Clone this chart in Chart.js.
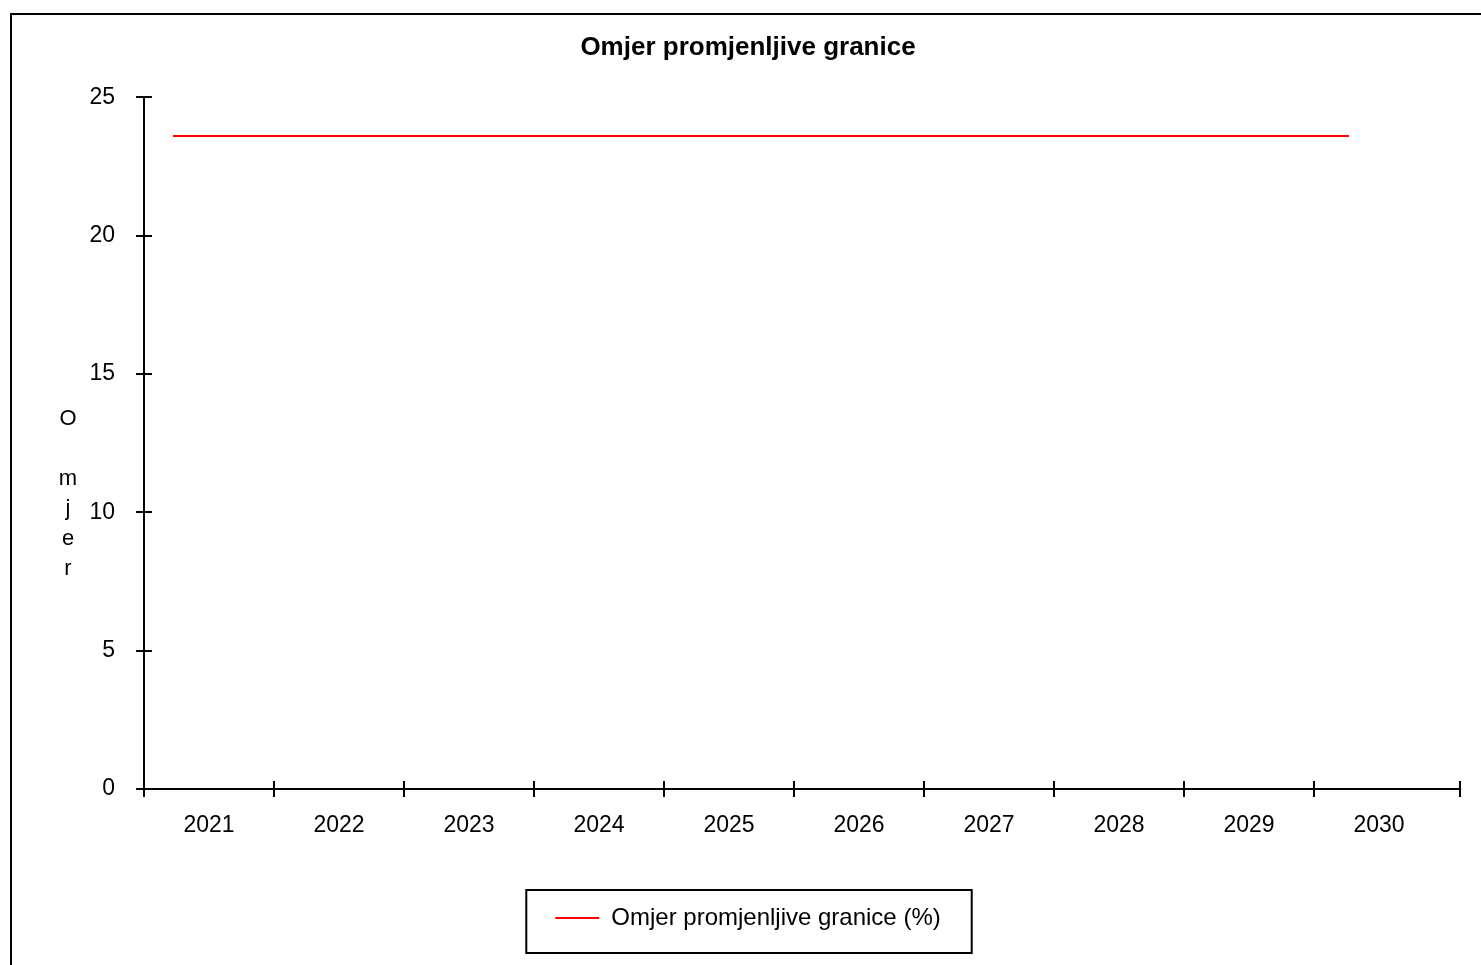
<!DOCTYPE html>
<html>
<head>
<meta charset="utf-8">
<title>Omjer promjenljive granice</title>
<script src="https://cdn.jsdelivr.net/npm/chart.js@4"></script>
<style>
  html, body { margin: 0; padding: 0; background: #fff; }
  #wrap { width: 1481px; height: 965px; }
</style>
</head>
<body>
<div id="wrap"><canvas id="ratio-chart" width="1481" height="965"></canvas></div>
<script>
/* Omjer promjenljive granice - line chart */

const years = ['2021', '2022', '2023', '2024', '2025', '2026', '2027', '2028', '2029', '2030'];
const ratioValues = [23.6, 23.6, 23.6, 23.6, 23.6, 23.6, 23.6, 23.6, 23.6, 23.6];
const yTicks = [0, 5, 10, 15, 20, 25];
const yTitleLetters = ['O', '', 'm', 'j', 'e', 'r'];

Chart.defaults.font.family = 'Arial, "Liberation Sans", sans-serif';
Chart.defaults.color = '#000';

// outer frame, crossing tick marks, stacked y title, legend box
const decorPlugin = {
    id: 'decor',
    afterDraw(chart) {
        const ctx = chart.ctx;
        const xs = chart.scales.x;
        const ys = chart.scales.y;
        ctx.save();

        // frame round the whole picture
        ctx.strokeStyle = '#000';
        ctx.lineWidth = 2;
        ctx.strokeRect(11, 14, 3000, 3000);

        // tick marks cross the axes
        ctx.beginPath();
        ys.ticks.forEach(t => {
            const py = Math.round(ys.getPixelForValue(t.value));
            ctx.moveTo(ys.right - 8, py);
            ctx.lineTo(ys.right + 8, py);
        });
        xs.ticks.forEach(t => {
            const px = Math.round(xs.getPixelForValue(t.value));
            ctx.moveTo(px, xs.top - 8);
            ctx.lineTo(px, xs.top + 8);
        });
        ctx.stroke();

        // y title, one letter per line
        ctx.font = '22px Arial, "Liberation Sans", sans-serif';
        ctx.fillStyle = '#000';
        ctx.textAlign = 'center';
        ctx.textBaseline = 'middle';
        yTitleLetters.forEach((ch, i) => {
            if (ch) ctx.fillText(ch, 68, 419 + i * 30);
        });

        // box round the legend
        const hb = chart.legend.legendHitBoxes[0];
        if (hb) {
            ctx.strokeRect(hb.left - 29, hb.top - 16, hb.width + 60, hb.height + 39);
        }
        ctx.restore();
    }
};

new Chart(document.getElementById('ratio-chart'), {
    type: 'line',
    data: {
        datasets: [{
            label: 'Omjer promjenljive granice (%)',
            data: years.map((y, i) => ({ x: Number(y), y: ratioValues[i] })),
            xAxisID: 'xLine',
            borderColor: '#ff0000',
            backgroundColor: '#ff0000',
            borderWidth: 2,
            pointRadius: 0,
            tension: 0
        }]
    },
    plugins: [decorPlugin],
    options: {
        responsive: false,
        animation: false,
        layout: { padding: { left: 36, right: 21, top: 0, bottom: 25 } },
        plugins: {
            title: {
                display: true,
                text: 'Omjer promjenljive granice',
                font: { size: 26, weight: 'bold' },
                color: '#000',
                padding: { top: 32, bottom: 34 }
            },
            legend: {
                display: true,
                position: 'bottom',
                labels: {
                    usePointStyle: true,
                    pointStyle: 'line',
                    pointStyleWidth: 44,
                    boxHeight: 2,
                    font: { size: 24 },
                    color: '#000',
                    padding: 20
                }
            },
            tooltip: { enabled: false }
        },
        scales: {
            x: {
                type: 'linear',
                position: 'bottom',
                min: 2020.5,
                max: 2030.623,
                afterBuildTicks: scale => {
                    const t = years.map(y => ({ value: Number(y) - 0.5 }));
                    t.push({ value: scale.max });
                    scale.ticks = t;
                },
                afterFit: scale => {
                    scale.height = 97;
                    scale.paddingLeft = 0;
                    scale.paddingRight = 0;
                },
                grid: { display: false },
                border: { display: true, color: '#000', width: 2 },
                ticks: {
                    autoSkip: false,
                    maxRotation: 0,
                    labelOffset: 65,
                    padding: 15,
                    font: { size: 23 },
                    color: '#000',
                    callback: (v, i) => years[i] || ''
                }
            },
            xLine: {
                type: 'linear',
                display: false,
                min: 2020.778,
                max: 2030.849
            },
            y: {
                min: 0,
                max: 25,
                afterBuildTicks: scale => {
                    scale.ticks = yTicks.map(v => ({ value: v }));
                },
                afterFit: scale => { scale.width = 108; },
                grid: { display: false },
                border: { display: true, color: '#000', width: 2 },
                ticks: {
                    padding: 21,
                    font: { size: 23 },
                    color: '#000'
                }
            }
        }
    }
});
</script>
</body>
</html>
